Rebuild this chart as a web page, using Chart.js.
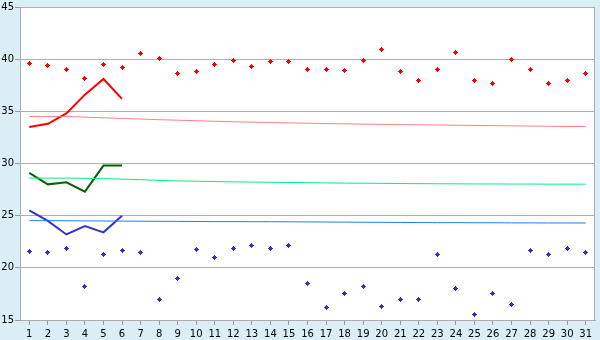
<!DOCTYPE html>
<html><head><meta charset="utf-8">
<script src="https://cdn.jsdelivr.net/npm/chart.js@4/dist/chart.umd.min.js"></script>
<style>html,body{margin:0;padding:0;background:#D9EEF5;}</style>
</head><body>
<canvas id="c" width="600" height="340" style="display:block;width:600px;height:340px"></canvas>
<script>
const days = ['1','2','3','4','5','6','7','8','9','10','11','12','13','14','15','16','17','18','19','20','21','22','23','24','25','26','27','28','29','30','31'];
const highPoints = [39.6,39.4,39.0,38.1,39.5,39.2,40.5,40.1,38.6,38.8,39.5,39.9,39.3,39.8,39.8,39.0,39.0,38.9,39.9,40.9,38.8,38.0,39.0,40.6,38.0,37.7,40.0,39.0,37.7,38.0,38.6];
const lowPoints = [21.6,21.5,21.9,18.2,21.3,21.7,21.5,17.0,19.0,21.8,21.0,21.9,22.1,21.9,22.1,18.5,16.2,17.5,18.2,16.3,17.0,17.0,21.3,18.0,15.5,17.5,16.5,21.7,21.3,21.9,21.5];
const highLine = [33.5,33.8,34.8,36.6,38.1,36.2];
const meanLine = [29.1,28.0,28.2,27.3,29.8,29.8];
const lowLine = [25.5,24.5,23.2,24.0,23.4,25.0];
const highNormal = [34.5,34.5,34.5,34.45,34.38,34.32,34.26,34.2,34.15,34.1,34.05,34.0,33.96,33.93,33.89,33.86,33.83,33.8,33.77,33.75,33.73,33.71,33.69,33.67,33.65,33.63,33.61,33.59,33.57,33.55,33.54];
const meanNormal = [28.6,28.6,28.6,28.58,28.55,28.5,28.45,28.38,28.33,28.3,28.27,28.24,28.22,28.2,28.18,28.16,28.14,28.12,28.11,28.1,28.08,28.07,28.06,28.05,28.04,28.04,28.03,28.03,28.02,28.02,28.02];
const lowNormal = [24.52,24.52,24.51,24.5,24.49,24.48,24.47,24.46,24.45,24.44,24.43,24.43,24.42,24.42,24.41,24.4,24.39,24.38,24.37,24.36,24.35,24.34,24.33,24.33,24.32,24.32,24.31,24.31,24.3,24.3,24.3];
const yTicks = [15,20,25,30,35,40,45];

function marker(color){
  const cv=document.createElement('canvas');cv.width=5;cv.height=5;
  const g=cv.getContext('2d');g.fillStyle=color;
  g.fillRect(2,0,1,5);g.fillRect(1,1,3,3);g.fillRect(0,2,5,1);
  return cv;
}
const redM=marker('#FF0000'), blueM=marker('#3333CC');

const bgPlugin={id:'bg',
  beforeDraw(chart){const {ctx,chartArea:a}=chart;ctx.save();ctx.fillStyle='#D9EEF5';ctx.fillRect(0,0,chart.width,chart.height);
    ctx.fillStyle='#FFFFFF';ctx.fillRect(a.left,a.top,a.right-a.left,a.bottom-a.top);ctx.restore();},
  beforeDatasetsDraw(chart){chart.ctx.imageSmoothingEnabled=false;},
  afterDraw(chart){const {ctx,chartArea:a}=chart;ctx.save();ctx.strokeStyle='#AAAAAA';ctx.lineWidth=1;
    ctx.beginPath();ctx.moveTo(Math.round(a.right)-0.5,a.top);ctx.lineTo(Math.round(a.right)-0.5,a.bottom);ctx.stroke();ctx.restore();}
};

const F={family:'"DejaVu Sans", Verdana, sans-serif',size:10};
new Chart(document.getElementById('c'),{
  type:'line',
  data:{labels:days,datasets:[
    {data:highNormal,borderColor:'#FF8080',borderWidth:1,pointRadius:0,tension:0},
    {data:meanNormal,borderColor:'#00F080',borderWidth:1,pointRadius:0,tension:0},
    {data:lowNormal,borderColor:'#1A7FEA',borderWidth:1,pointRadius:0,tension:0},
    {data:highPoints,showLine:false,pointStyle:redM,pointRadius:3},
    {data:lowPoints,showLine:false,pointStyle:blueM,pointRadius:3},
    {data:highLine,borderColor:'#FF0000',borderWidth:2,pointRadius:0,tension:0},
    {data:meanLine,borderColor:'#006600',borderWidth:2,pointRadius:0,tension:0},
    {data:lowLine,borderColor:'#3333CC',borderWidth:2,pointRadius:0,tension:0}
  ]},
  options:{responsive:false,devicePixelRatio:1,animation:false,events:[],
    layout:{padding:{top:5,right:5,left:0,bottom:0}},
    plugins:{legend:{display:false},tooltip:{enabled:false}},
    scales:{
      x:{offset:true,afterFit(s){s.height=20;},
        grid:{drawOnChartArea:false,drawTicks:true,tickLength:5,tickColor:'#999999'},
        border:{color:'#AAAAAA'},
        ticks:{autoSkip:false,maxRotation:0,padding:3,color:'#000000',font:F}},
      y:{min:15,max:45,afterFit(s){s.width=20;},
        afterBuildTicks(s){s.ticks=yTicks.map(v=>({value:v}));},
        grid:{color:'#B0B0B0',tickLength:5,tickColor:'#999999'},
        border:{color:'#AAAAAA'},
        ticks:{padding:1,color:'#000000',font:F}}
    }
  },
  plugins:[bgPlugin]
});
</script>
</body></html>
